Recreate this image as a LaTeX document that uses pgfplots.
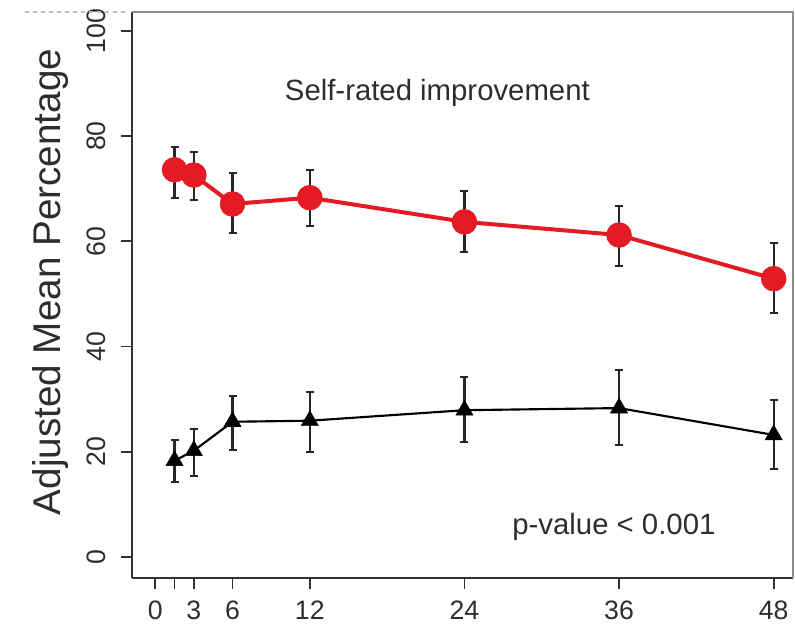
\documentclass[border=0pt]{standalone}
\usepackage{fontspec}
\setmainfont{Liberation Sans}
\usepackage{pgfplots}
\pgfplotsset{compat=1.18}
\definecolor{redc}{RGB}{228,26,36}
\definecolor{txt}{RGB}{45,45,45}
\begin{document}
\begin{tikzpicture}
\begin{axis}[
  scale only axis, width=495.75pt, height=424.5pt,
  xmin=-1.8, xmax=49.5, ymin=-4, ymax=103.6,
  axis lines=left,
  axis line style={-, line width=1.3pt, black!80},
  xtick={0,1.5,3,6,12,24,36,48},
  xticklabels={0,,3,6,12,24,36,48},
  ytick={0,20,40,60,80,100},
  tick align=outside,
  major tick length=8pt,
  tick style={line width=1.3pt, black!80},
  /pgf/number format/assume math mode=true,
  ticklabel style={font=\fontsize{20}{22}\selectfont, text=txt},
  yticklabel style={rotate=90, anchor=south, yshift=8pt},
  xticklabel style={yshift=-6pt},
  ylabel={Adjusted Mean Percentage},
  ylabel style={at={(axis description cs:-0.124,0.523)}, anchor=center, rotate=0, font=\fontsize{29}{32}\selectfont, text=txt},
  clip=false,
]
\coordinate (SW) at (rel axis cs:0,0);
\coordinate (NE) at (rel axis cs:1,1);
\draw[black!45, line width=1.2pt] (rel axis cs:0,1) -- (rel axis cs:1,1) -- (rel axis cs:1,0);
% error bars red series
\addplot[draw=none, mark=none, forget plot,
  error bars/.cd, y dir=both, y explicit,
  error bar style={line width=1.6pt, black!85},
  error mark options={rotate=90, mark size=3pt, line width=1.6pt, black!85}]
  coordinates {
  (1.5,73.6) += (0,4.4) -= (0,5.3)
  (3,72.6) += (0,4.4) -= (0,4.7)
  (6,67.1) += (0,5.9) -= (0,5.5)
  (12,68.3) += (0,5.3) -= (0,5.4)
  (24,63.7) += (0,5.9) -= (0,5.7)
  (36,61.2) += (0,5.5) -= (0,5.9)
  (48,52.9) += (0,6.8) -= (0,6.5)
  };
% error bars black series
\addplot[draw=none, mark=none, forget plot,
  error bars/.cd, y dir=both, y explicit,
  error bar style={line width=1.6pt, black!85},
  error mark options={rotate=90, mark size=3pt, line width=1.6pt, black!85}]
  coordinates {
  (1.5,18.3) += (0,3.9) -= (0,4.0)
  (3,20.2) += (0,4.1) -= (0,4.8)
  (6,25.7) += (0,4.9) -= (0,5.4)
  (12,25.9) += (0,5.5) -= (0,5.9)
  (24,27.9) += (0,6.3) -= (0,6.0)
  (36,28.3) += (0,7.2) -= (0,7.0)
  (48,23.2) += (0,6.6) -= (0,6.5)
  };
\addplot[redc, line width=3pt, mark=*, mark size=9.3pt, mark options={fill=redc, draw=redc, line width=0.5pt}]
  coordinates {(1.5,73.6) (3,72.6) (6,67.1) (12,68.3) (24,63.7) (36,61.2) (48,52.9)};
\addplot[black, line width=1.6pt, mark=triangle*, mark size=7.5pt, mark options={fill=black, draw=black, line width=0.3pt}]
  coordinates {(1.5,18.3) (3,20.2) (6,25.7) (12,25.9) (24,27.9) (36,28.3) (48,23.2)};
\node[font=\fontsize{22}{24}\selectfont, text=txt] at (axis cs:21.9,88.2) {Self-rated improvement};
\node[font=\fontsize{22}{24}\selectfont, text=txt] at (axis cs:35.6,5.7) {p-value < 0.001};
\end{axis}
\draw[black!25, dashed, line width=0.8pt] ([xshift=-80pt]NE -| SW) -- ([xshift=-2pt]NE -| SW);
\pgfresetboundingbox
\path ([xshift=-99pt,yshift=-42pt]SW) rectangle ([xshift=1.5pt,yshift=9pt]NE);
\end{tikzpicture}
\end{document}
